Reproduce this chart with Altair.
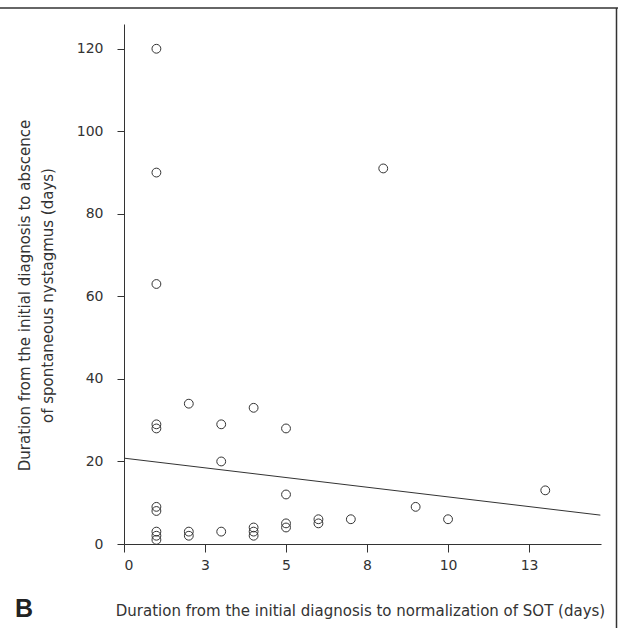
import altair as alt
import pandas as pd

# Data
x_days_sot = [1, 1, 1, 1, 1, 1, 1, 1, 1, 1,
              2, 2, 2,
              3, 3, 3,
              4, 4, 4, 4,
              5, 5, 5, 5,
              6, 6,
              7, 8, 9, 10, 13]
y_days_sn = [120, 90, 63, 29, 28, 9, 8, 3, 2, 1,
             34, 3, 2,
             29, 20, 3,
             33, 4, 3, 2,
             28, 12, 5, 4,
             6, 5,
             6, 91, 9, 6, 13]
fit_x = [0, 14.7]
fit_y = [20.8, 7.0]
x_tick_values = [0, 2.5, 5, 7.5, 10, 12.5]
x_tick_labels = ["0", "3", "5", "8", "10", "13"]
y_tick_values = [0, 20, 40, 60, 80, 100, 120]
x_domain = [0, 14.72]
y_domain = [0, 126]

x_title = "Duration from the initial diagnosis to normalization of SOT (days)"
y_title = ["Duration from the initial diagnosis to abscence",
           "of spontaneous nystagmus (days)"]
panel_label = ["B"]

pts = pd.DataFrame({"x": x_days_sot, "y": y_days_sn})
fit = pd.DataFrame({"x": fit_x, "y": fit_y})

label_expr = " : ".join(
    f"datum.value == {v} ? '{l}'" for v, l in zip(x_tick_values, x_tick_labels)
) + " : ''"

INK = "#333333"
FONT = "DejaVu Sans"

x_enc = alt.X(
    "x:Q",
    scale=alt.Scale(domain=x_domain, nice=False, zero=False),
    axis=alt.Axis(
        values=x_tick_values, labelExpr=label_expr, title=x_title,
        titleX=236, titleY=71, titleAlign="center", titleBaseline="alphabetic",
        labelFontSize=14, labelPadding=6, tickSize=8,
    ),
)
y_enc = alt.Y(
    "y:Q",
    scale=alt.Scale(domain=y_domain, nice=False, zero=False),
    axis=alt.Axis(
        values=y_tick_values, title=y_title,
        titleX=-100, titleY=271, titleAlign="center", titleBaseline="middle",
        titleAngle=270, titleLineHeight=23, labelPadding=14, labelFontSize=14,
        tickSize=7,
    ),
)

points = alt.Chart(pts).mark_point(
    shape="circle", filled=False, size=78, stroke=INK, strokeWidth=1, opacity=1
).encode(x=x_enc, y=y_enc)

line = alt.Chart(fit).mark_line(color=INK, strokeWidth=1).encode(
    x=alt.X("x:Q"), y=alt.Y("y:Q")
)

one = pd.DataFrame({"t": panel_label})
blabel = alt.Chart(one).mark_text(
    font="Liberation Sans", fontWeight="bold", fontSize=25, color="#222222",
    align="center", baseline="alphabetic"
).encode(text="t:N", x=alt.value(-100), y=alt.value(592.5))

frame_top = alt.Chart(one).mark_rule(color=INK, strokeWidth=1.5).encode(
    x=alt.value(-124), x2=alt.value(494), y=alt.value(-16)
)
frame_right = alt.Chart(one).mark_rule(color=INK, strokeWidth=1.5).encode(
    x=alt.value(492.5), y=alt.value(-16), y2=alt.value(610)
)

chart = alt.layer(line, points, blabel, frame_top, frame_right).properties(
    width=477, height=520,
    autosize=alt.AutoSizeParams(type="none"),
    padding={"left": 124, "top": 24, "right": 17, "bottom": 84},
).configure_view(stroke=None).configure_axis(
    grid=False, domainColor=INK, tickColor=INK, domainWidth=1,
    tickWidth=1, labelColor=INK, titleColor=INK, labelFont=FONT, titleFont=FONT,
    titleFontSize=15, titleFontWeight="normal",
)

chart.save("out.html", embed_options={"renderer": "svg", "actions": False})
